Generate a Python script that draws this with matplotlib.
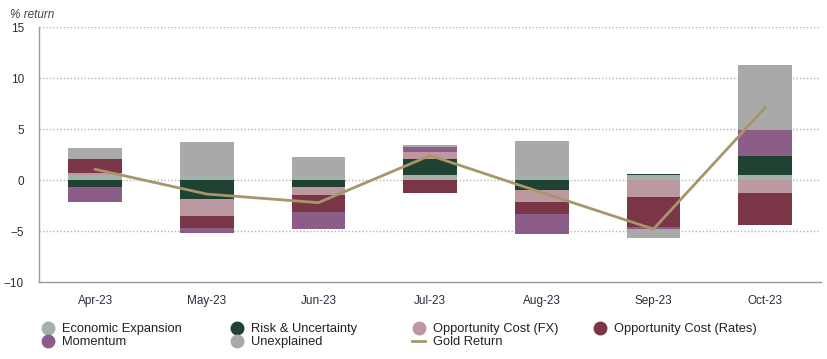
import matplotlib.pyplot as plt
import numpy as np
from matplotlib.lines import Line2D

plt.rcParams['font.family'] = ['Liberation Sans', 'DejaVu Sans']

months = ['Apr-23', 'May-23', 'Jun-23', 'Jul-23', 'Aug-23', 'Sep-23', 'Oct-23']

econ_expansion = [0.55, 0.56, 0.53, 0.56, 0.53, 0.56, 0.56]
risk_uncertainty = [-0.70, -1.80, -0.62, 1.57, -0.91, 0.10, 1.87]
opp_cost_fx = [0.20, -1.67, -0.79, 0.60, -1.18, -1.60, -1.20]
opp_cost_rates = [1.37, -1.18, -1.67, -1.20, -1.18, -2.95, -3.15]
momentum = [-1.47, -0.56, -1.67, 0.50, -1.97, -0.20, 2.55]
unexplained = [1.00, 3.15, 1.80, 0.20, 3.28, -0.88, 6.30]
gold_return = [1.08, -1.35, -2.19, 2.43, -1.20, -4.78, 7.12]

series = [
    ('Economic Expansion', econ_expansion, '#a2b2aa'),
    ('Risk & Uncertainty', risk_uncertainty, '#1f4232'),
    ('Opportunity Cost (FX)', opp_cost_fx, '#bc99a0'),
    ('Opportunity Cost (Rates)', opp_cost_rates, '#7a3646'),
    ('Momentum', momentum, '#8c5d88'),
    ('Unexplained', unexplained, '#a9a9a9'),
]
gold_color = '#a8956a'
text_color = '#2a2d3e'

fig = plt.figure(figsize=(8.28, 3.59), dpi=100)
ax = fig.add_axes([0.0475, 0.2136, 0.944, 0.7104])

x = np.arange(len(months))
pos_bottom = np.zeros(len(months))
neg_bottom = np.zeros(len(months))
handles = {}
for name, vals, color in series:
    vals = np.array(vals)
    bottom = np.where(vals >= 0, pos_bottom, neg_bottom)
    ax.bar(x, vals, width=0.48, bottom=bottom, color=color, zorder=2)
    pos_bottom += np.where(vals >= 0, vals, 0)
    neg_bottom += np.where(vals < 0, vals, 0)
    handles[name] = Line2D([], [], marker='o', linestyle='none', markersize=9,
                           markerfacecolor=color, markeredgecolor=color)

ax.plot(x, gold_return, color=gold_color, linewidth=2, zorder=3)
handles['Gold Return'] = Line2D([], [], color=gold_color, linewidth=2)

ax.set_xlim(-0.5, len(months) - 0.5)
ax.set_ylim(-10, 15)
ax.set_yticks([-10, -5, 0, 5, 10, 15])
ax.set_xticks(x)
ax.set_xticklabels(months)
ax.tick_params(axis='both', length=0, labelsize=8.5, labelcolor=text_color)
ax.tick_params(axis='y', pad=11)
ax.tick_params(axis='x', pad=9)
for v in [-5, 0, 5, 10, 15]:
    ax.axhline(v, color='#b5b5b5', linestyle=(0, (1, 1.5)), linewidth=1, zorder=1)

for s in ['top', 'right']:
    ax.spines[s].set_visible(False)
for s in ['left', 'bottom']:
    ax.spines[s].set_color('#999999')
    ax.spines[s].set_linewidth(1)

fig.text(0.012, 0.958, '% return', fontsize=8.5, style='italic', color='#444444',
         va='center', ha='left')

columns = [
    (0.0505, ['Economic Expansion', 'Momentum']),
    (0.2786, ['Risk & Uncertainty', 'Unexplained']),
    (0.498, ['Opportunity Cost (FX)', 'Gold Return']),
    (0.717, ['Opportunity Cost (Rates)']),
]
for xpos, names in columns:
    leg = fig.legend([handles[n] for n in names], names, loc='upper left',
                     bbox_to_anchor=(xpos, 0.100), bbox_transform=fig.transFigure,
                     frameon=False, fontsize=9.3, handlelength=1.0, handletextpad=0.6,
                     labelspacing=0.1, borderpad=0, borderaxespad=0)
    for t in leg.get_texts():
        t.set_color('#222222')

fig.savefig('out.png', dpi=100)
